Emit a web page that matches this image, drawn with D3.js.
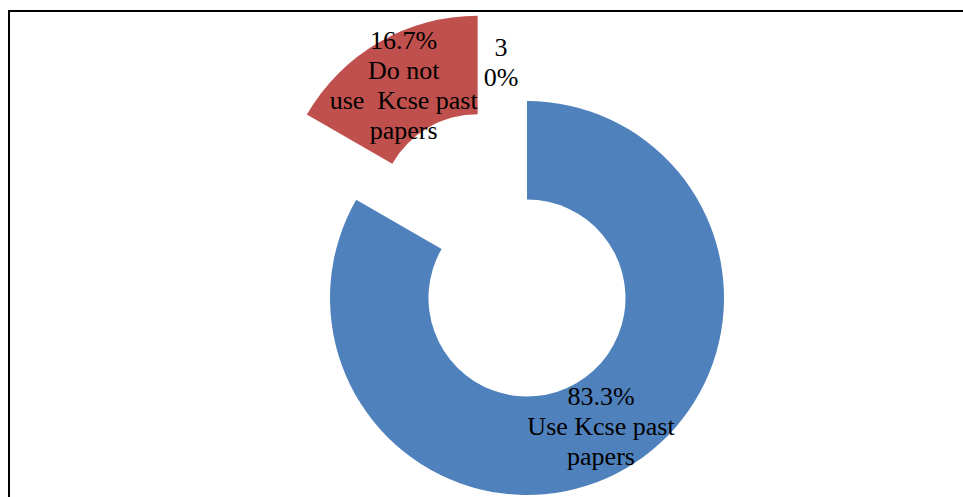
<!DOCTYPE html>
<html>
<head>
<meta charset="utf-8">
<script src="https://cdn.jsdelivr.net/npm/d3@7"></script>
<style>
  html, body { margin: 0; padding: 0; background: #fff; }
  svg { display: block; }
  text { font-family: "Liberation Serif", "Times New Roman", serif; font-size: 26px; fill: #000; white-space: pre; }
</style>
</head>
<body>
<svg id="chart" width="963" height="497"></svg>
<script>
// Survey responses on use of KCSE past papers
const categories = ["Use Kcse past papers", "Do not  use  Kcse past papers", "3"];
const values = [83.3, 16.7, 0];
const labelLines = [
  ["83.3%", "Use Kcse past", "papers"],
  ["16.7%", "Do not", "use  Kcse past", "papers"],
  ["3", "0%"]
];
const colors = ["#4F81BD", "#C0504D", "#9BBB59"];
// fraction of the outer radius each slice is pulled out from the centre
const explode = [0, 0.5, 0.5];

const width = 963, height = 497;
const svg = d3.select("#chart");

// chart frame
svg.append("rect")
  .attr("x", 9).attr("y", 11)
  .attr("width", 962).attr("height", 500)
  .attr("fill", "none").attr("stroke", "#000").attr("stroke-width", 2);

const cx = 527, cy = 298;
const outerR = 197, innerR = 98.5;

const pie = d3.pie().sort(null).value(d => d)(values);
const arc = d3.arc().innerRadius(innerR).outerRadius(outerR);

const g = svg.append("g").attr("transform", `translate(${cx},${cy})`);

function offset(d, i) {
  const mid = (d.startAngle + d.endAngle) / 2;
  const dist = explode[i] * outerR;
  return [Math.sin(mid) * dist, -Math.cos(mid) * dist];
}

g.selectAll("path.slice")
  .data(pie)
  .join("path")
  .attr("class", "slice")
  .attr("d", d => d.endAngle > d.startAngle ? arc(d) : null)
  .attr("fill", (d, i) => colors[i])
  .attr("transform", (d, i) => {
    const [dx, dy] = offset(d, i);
    return `translate(${dx},${dy})`;
  });

// data labels sit on each slice's centroid; the empty slice's label is nudged aside
const labelNudge = [[0, 0], [0, 0], [-26, 10]];
const lineH = 30;

pie.forEach((d, i) => {
  const [dx, dy] = offset(d, i);
  const [mx, my] = arc.centroid(d);
  const x = mx + dx + labelNudge[i][0];
  const y = my + dy + labelNudge[i][1];
  const lines = labelLines[i];
  const t = g.append("text")
    .attr("text-anchor", "middle")
    .attr("x", x)
    .attr("y", y - (lines.length - 1) * lineH / 2 + 9);
  lines.forEach((ln, k) => {
    t.append("tspan")
      .attr("x", x)
      .attr("dy", k === 0 ? 0 : lineH)
      .text(ln);
  });
});
</script>
</body>
</html>
